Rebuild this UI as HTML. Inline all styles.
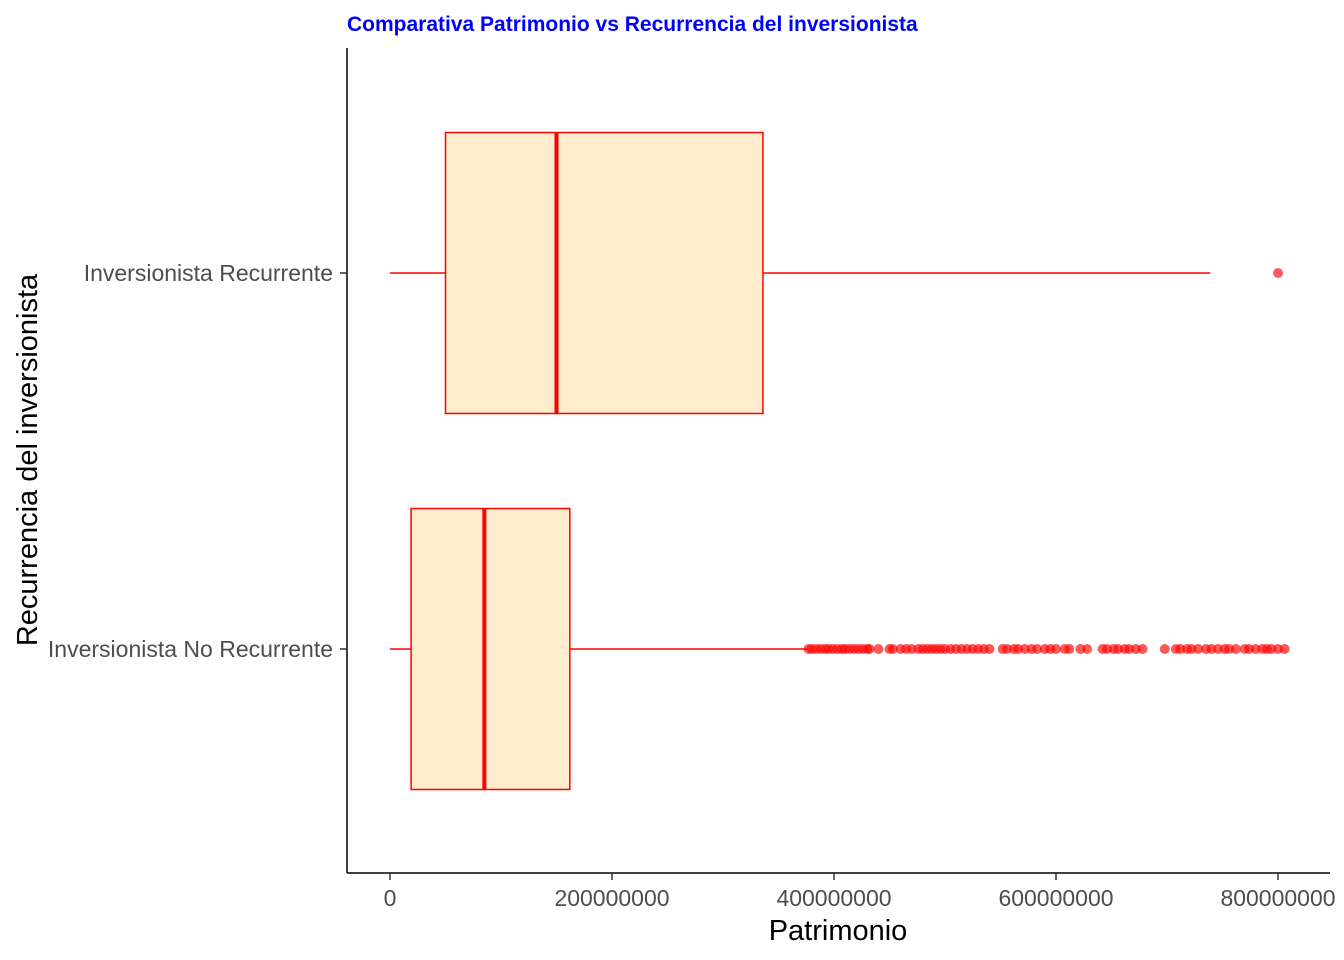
<!DOCTYPE html>
<html><head><meta charset="utf-8"><style>body{margin:0;background:#fff}svg{display:block}</style></head><body>
<svg id="c" width="1344" height="960" xmlns="http://www.w3.org/2000/svg" font-family="Liberation Sans, sans-serif">
<text x="347" y="31" fill="#0000ff" font-weight="bold" font-size="21">Comparativa Patrimonio vs Recurrencia del inversionista</text>
<line x1="347" y1="48" x2="347" y2="873" stroke="#000" stroke-width="1.5"/>
<line x1="347" y1="873" x2="1330" y2="873" stroke="#000" stroke-width="1.5"/>
<text x="838" y="940" text-anchor="middle" font-size="29">Patrimonio</text>
<text transform="translate(37,460) rotate(-90)" text-anchor="middle" font-size="29">Recurrencia del inversionista</text>
<g id="g"></g>
</svg>
<script>
const categories=["Inversionista No Recurrente","Inversionista Recurrente"];
const mins=[0,0];
const q1s=[19,50];
const medians=[85,150];
const q3s=[162,336];
const maxs=[376,739];
const outliersNo=[377,380,384,388,392,395,399,403,407,410,414,418,422,426,430,432,440,450,453,460,465,470,476,480,484,488,492,496,500,505,510,515,520,525,530,535,540,552,556,562,566,572,578,583,590,595,600,608,612,622,628,642,646,652,656,662,666,672,678,698,708,712,718,722,728,735,740,746,752,756,762,770,774,780,786,790,794,800,806];
const outliersRec=[800];
const xTicks=[0,200,400,600,800];
const xTickLabels=["0","200000000","400000000","600000000","800000000"];
const NS="http://www.w3.org/2000/svg";
const g=document.getElementById('g');
const X=v=>390+v*1.11;
const Y=i=>[649,273][i];
const halfH=140.5;
function mk(t,a){const e=document.createElementNS(NS,t);for(const k in a)e.setAttribute(k,a[k]);g.appendChild(e);return e;}
xTicks.forEach((v,i)=>{
 const l=mk('line',{x1:X(v),x2:X(v),y1:873,y2:880,stroke:'#333','stroke-width':1.5});
 
 
 const t=mk('text',{x:X(v),y:906,'text-anchor':'middle','font-size':23,fill:'#4d4d4d'});t.textContent=xTickLabels[i];
 
 
});
categories.forEach((c,i)=>{
 const y=Y(i);
 const tk=mk('line',{x1:340,x2:347,y1:y,y2:y,stroke:'#333','stroke-width':1.5});
 
 
 const t=mk('text',{x:333,y:y+8,'text-anchor':'end','font-size':23,fill:'#4d4d4d'});t.textContent=c;
 
 
 const w=mk('line',{x1:X(mins[i]),x2:X(maxs[i]),y1:y,y2:y,stroke:'#f00','stroke-width':1.5});
 
 
 const b=mk('rect',{x:X(q1s[i]),y:y-halfH,width:X(q3s[i])-X(q1s[i]),height:2*halfH,fill:'#ffeccc',stroke:'#f00','stroke-width':1.5});
 
 
 const m=mk('line',{x1:X(medians[i]),x2:X(medians[i]),y1:y-halfH,y2:y+halfH,stroke:'#f00','stroke-width':4});
 
 
 const outs=i===0?outliersNo:outliersRec;
 outs.forEach(v=>{
  const p=mk('circle',{cx:X(v),cy:y,r:5,fill:'#f00','fill-opacity':0.65});
  
  
 });
});
</script>
</body></html>
